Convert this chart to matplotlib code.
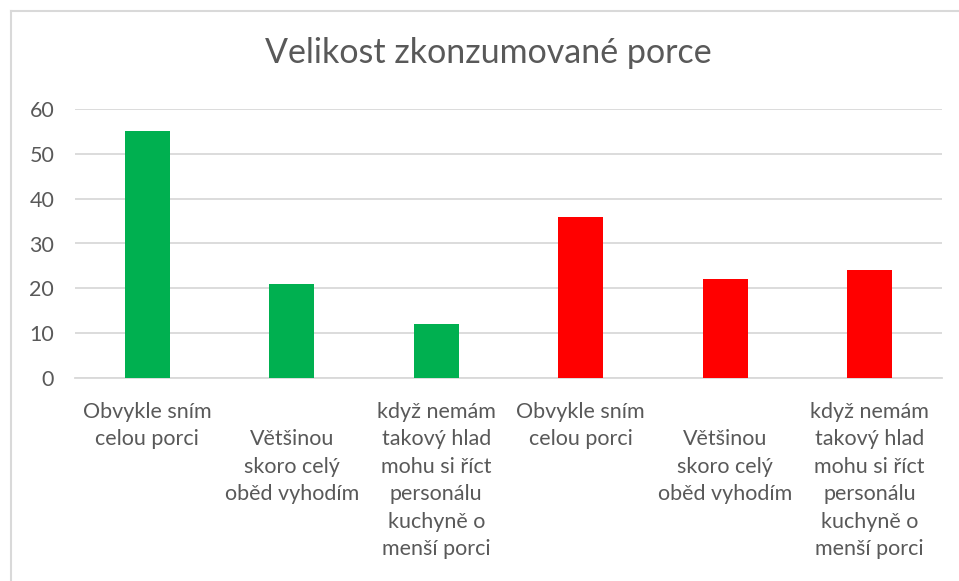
import matplotlib.pyplot as plt
from matplotlib.lines import Line2D

plt.rcParams['font.family'] = ['Lato', 'DejaVu Sans']

title = "Velikost zkonzumované porce"
categories = [
    "Obvykle sním\ncelou porci",
    "\nVětšinou\nskoro celý\noběd vyhodím",
    "když nemám\ntakový hlad\nmohu si říct\npersonálu\nkuchyně o\nmenší porci",
    "Obvykle sním\ncelou porci",
    "\nVětšinou\nskoro celý\noběd vyhodím",
    "když nemám\ntakový hlad\nmohu si říct\npersonálu\nkuchyně o\nmenší porci",
]
values = [55, 21, 12, 36, 22, 24]
colors = ["#00B050", "#00B050", "#00B050", "#FF0000", "#FF0000", "#FF0000"]
yticks = [0, 10, 20, 30, 40, 50, 60]

text_color = "#595959"
grid_color = "#D9D9D9"

fig = plt.figure(figsize=(9.59, 5.81), dpi=100)
ax = fig.add_axes([75 / 959, 1 - 378 / 581, (942 - 75) / 959, (378 - 109) / 581])

x = list(range(len(values)))
ax.bar(x, values, width=0.31, color=colors, zorder=3)

ax.set_xlim(-0.5, len(values) - 0.5)
ax.set_ylim(0, 60)
ax.set_yticks(yticks)
ax.set_yticklabels([str(v) for v in yticks])
ax.set_xticks(x)
ax.set_xticklabels(categories, linespacing=1.47, va="top")

ax.grid(axis="y", color=grid_color, linewidth=1.3, zorder=0)
for s in ["top", "right", "left"]:
    ax.spines[s].set_visible(False)
ax.spines["bottom"].set_color(grid_color)
ax.spines["bottom"].set_linewidth(1.3)

ax.tick_params(axis="both", length=0, labelsize=15.5, colors=text_color)
ax.tick_params(axis="x", pad=17)
ax.tick_params(axis="y", pad=15)

fig.text(488 / 959, 1 - 53 / 581, title, ha="center", va="center",
         fontsize=24.5, color=text_color)

# chart border (left and top visible)
fig.add_artist(Line2D([10.5 / 959, 10.5 / 959], [0, 1 - 10.5 / 581],
                      transform=fig.transFigure, color="#D9D9D9", linewidth=1.5))
fig.add_artist(Line2D([10.5 / 959, 1], [1 - 10.5 / 581, 1 - 10.5 / 581],
                      transform=fig.transFigure, color="#D9D9D9", linewidth=1.5))

fig.savefig("out.png", dpi=100)
